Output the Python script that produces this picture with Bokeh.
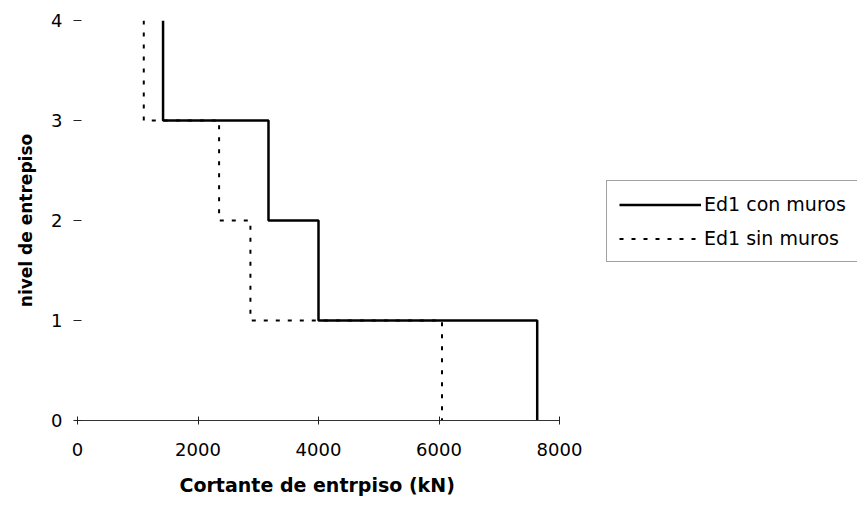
from bokeh.plotting import figure
from bokeh.models import Range1d, FixedTicker, Legend, LegendItem, Title
from bokeh.embed import file_html
from bokeh.resources import INLINE

# Data (storey shear per storey, from top storey 4 down to storey 1)
levels = [4, 3, 2, 1, 0]
con_muros = [1420, 3170, 4000, 7630]
sin_muros = [1100, 2350, 2870, 6050]
x_ticks = [0, 2000, 4000, 6000, 8000]
y_ticks = [0, 1, 2, 3, 4]
series_names = ["Ed1 con muros", "Ed1 sin muros"]
x_title = "Cortante de entrpiso (kN)"
y_title = "nivel de entrepiso"


def steps(vals):
    xs, ys = [], []
    for i, v in enumerate(vals):
        xs += [v, v]
        ys += [levels[i], levels[i + 1]]
    return xs, ys


FONT = "DejaVu Sans"

# plot area: x 0..8000 spans 482 px; frame continues to the right edge to host the legend
FRAME_W = 780
x_end = 8000 * FRAME_W / 482

p = figure(width=857, height=510, output_backend="svg", toolbar_location=None,
           x_range=Range1d(0, x_end), y_range=Range1d(0, 4),
           min_border_left=77, min_border_right=0, min_border_top=20,
           min_border_bottom=90)
p.outline_line_color = None
p.xgrid.visible = False
p.ygrid.visible = False
p.background_fill_color = "white"
p.border_fill_color = "white"

xs_s, ys_s = steps(sin_muros)
xs_c, ys_c = steps(con_muros)
r_sin = p.line(xs_s, ys_s, line_color="black", line_width=2, line_dash="4 8")
r_con = p.line(xs_c, ys_c, line_color="black", line_width=2.5)

# axes
p.xaxis.ticker = FixedTicker(ticks=x_ticks)
p.xaxis.bounds = (0, 8000)
p.yaxis.ticker = FixedTicker(ticks=y_ticks)
for ax in (p.xaxis[0], p.yaxis[0]):
    ax.major_label_text_font = FONT
    ax.major_label_text_font_size = "18px"
    ax.major_label_text_color = "black"
    ax.major_tick_in = 4
    ax.major_tick_out = 4
    ax.major_tick_line_color = "#222222"
    ax.minor_tick_line_color = None
    ax.axis_label_text_font = FONT
    ax.axis_label_text_font_style = "bold"
    ax.axis_label_text_color = "black"

p.xaxis.axis_line_color = "#333333"
p.xaxis.axis_line_width = 1.2
p.xaxis.major_label_standoff = 18

p.yaxis.axis_line_color = None
p.yaxis.major_label_standoff = 11
p.yaxis.axis_label = y_title
p.yaxis.axis_label_text_font_size = "17px"
p.yaxis.axis_label_standoff = 12

# x-axis title, centred under the 0..8000 part of the axis
p.add_layout(Title(text=x_title, align="left", offset=102, standoff=27,
                   text_font=FONT, text_font_style="bold",
                   text_font_size="19px", text_color="black"), "below")

legend = Legend(items=[LegendItem(label=series_names[0], renderers=[r_con]),
                       LegendItem(label=series_names[1], renderers=[r_sin])],
                location=(529, 158), orientation="vertical",
                glyph_width=82, glyph_height=21, label_height=21,
                label_standoff=3, spacing=12, padding=12, margin=0,
                label_text_font=FONT, label_text_font_size="19px",
                label_text_color="black",
                border_line_color="#444444", border_line_width=1,
                background_fill_color="white", background_fill_alpha=1)
p.add_layout(legend, "center")

open("out.html", "w").write(file_html(p, INLINE))
